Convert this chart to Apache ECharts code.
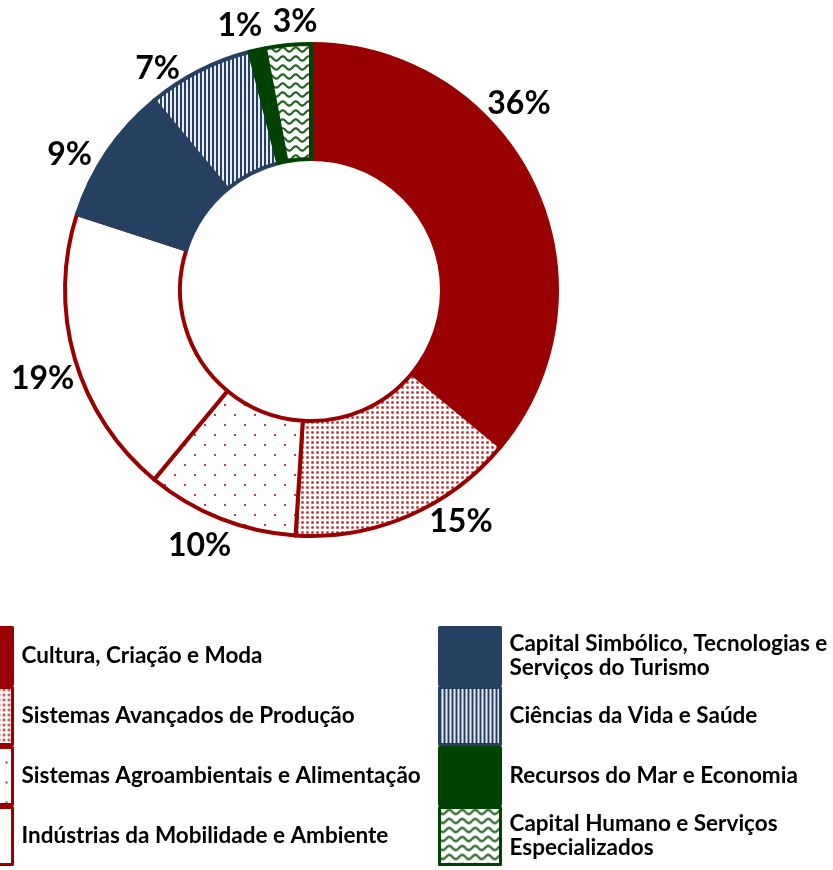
<!DOCTYPE html>
<html><head><meta charset="utf-8">
<script src="https://cdn.jsdelivr.net/npm/echarts@6/dist/echarts.min.js"></script>
<style>html,body{margin:0;padding:0;background:#fff}#c{width:833px;height:870px}</style>
</head><body><div id="c"></div>
<script>
// ---- data ----
const categories = [
  'Cultura, Criação e Moda',
  'Sistemas Avançados de Produção',
  'Sistemas Agroambientais e Alimentação',
  'Indústrias da Mobilidade e Ambiente',
  'Capital Simbólico, Tecnologias e Serviços do Turismo',
  'Ciências da Vida e Saúde',
  'Recursos do Mar e Economia',
  'Capital Humano e Serviços Especializados'
];
const shares = [36, 15, 10, 19, 9, 7, 1, 3];
const legendLeftNames = categories.slice(0, 4);
const legendRightNames = categories.slice(4);

// ---- styles ----
const RED = '#990000', NAVY = '#254061', GREEN = '#004200';
function pattern(w, h, draw) {
  const c = document.createElement('canvas');
  c.width = w; c.height = h;
  const g = c.getContext('2d');
  g.fillStyle = '#fff'; g.fillRect(0, 0, w, h);
  draw(g);
  return { image: c, repeat: 'repeat' };
}
const denseDots = pattern(5, 5, g => {
  g.fillStyle = '#e8b8b8'; g.fillRect(1, 1, 3, 3);
  g.fillStyle = '#b01a1a'; g.fillRect(1.5, 1.5, 2, 2);
});
const sparseDots = pattern(20, 20, g => {
  g.fillStyle = '#c04040';
  g.fillRect(4, 4, 2, 2); g.fillRect(14, 14, 2, 2);
});
const stripes = pattern(4, 4, g => {
  g.fillStyle = NAVY; g.fillRect(0, 0, 2, 4);
  g.fillStyle = '#e9edf3'; g.fillRect(2, 0, 2, 4);
});
const waves = pattern(13, 9, g => {
  g.strokeStyle = '#236223'; g.lineWidth = 2.2;
  g.beginPath();
  for (let x = -1; x <= 14; x += 0.5) {
    const y = 4.5 + 2.2 * Math.sin(2 * Math.PI * x / 13);
    if (x === -1) g.moveTo(x, y); else g.lineTo(x, y);
  }
  g.stroke();
});
const fills = [RED, denseDots, sparseDots, '#ffffff', NAVY, stripes, GREEN, waves];
const borders = [RED, RED, RED, RED, NAVY, NAVY, GREEN, GREEN];
const labelNudges = [[-64, -76], [10, -7], [21, 14], [18, 16], [1, 11], [-8, 10], [13, -11], [36, -9]];
const wrapped = {
  'Capital Simbólico, Tecnologias e Serviços do Turismo': 'Capital Simbólico, Tecnologias e\nServiços do Turismo',
  'Capital Humano e Serviços Especializados': 'Capital Humano e Serviços\nEspecializados'
};

const pieData = categories.map((name, i) => ({
  name, value: shares[i],
  itemStyle: { color: fills[i], borderColor: borders[i] },
  label: { offset: labelNudges[i] }
}));

const legendText = { fontFamily: 'Lato', fontWeight: 'bold', fontSize: 22.5, color: '#000', lineHeight: 24, padding: [0, 0, 0, 4] };
const legendBase = {
  orient: 'vertical', top: 626, itemWidth: 61, itemHeight: 57, itemGap: 0,
  icon: 'rect', padding: 0, selectedMode: false,
  itemStyle: { borderWidth: 3 },
  textStyle: legendText,
  formatter: n => wrapped[n] || n
};

const chart = echarts.init(document.getElementById('c'), null, { renderer: 'canvas' });
chart.setOption({
  backgroundColor: '#fff',
  animation: false,
  legend: [
    Object.assign({ left: -50, data: legendLeftNames }, legendBase),
    Object.assign({ left: 438, data: legendRightNames }, legendBase)
  ],
  series: [{
    type: 'pie',
    center: [311, 290],
    radius: [131, 246],
    startAngle: 90,
    clockwise: true,
    avoidLabelOverlap: false,
    itemStyle: { borderWidth: 4 },
    emphasis: { disabled: true },
    label: {
      show: true, position: 'outside', formatter: '{c}%',
      fontFamily: 'Lato', fontWeight: 'bold', fontSize: 32, color: '#000'
    },
    labelLine: { show: false, length: 14, length2: 0 },
    data: pieData
  }]
});
</script></body></html>
